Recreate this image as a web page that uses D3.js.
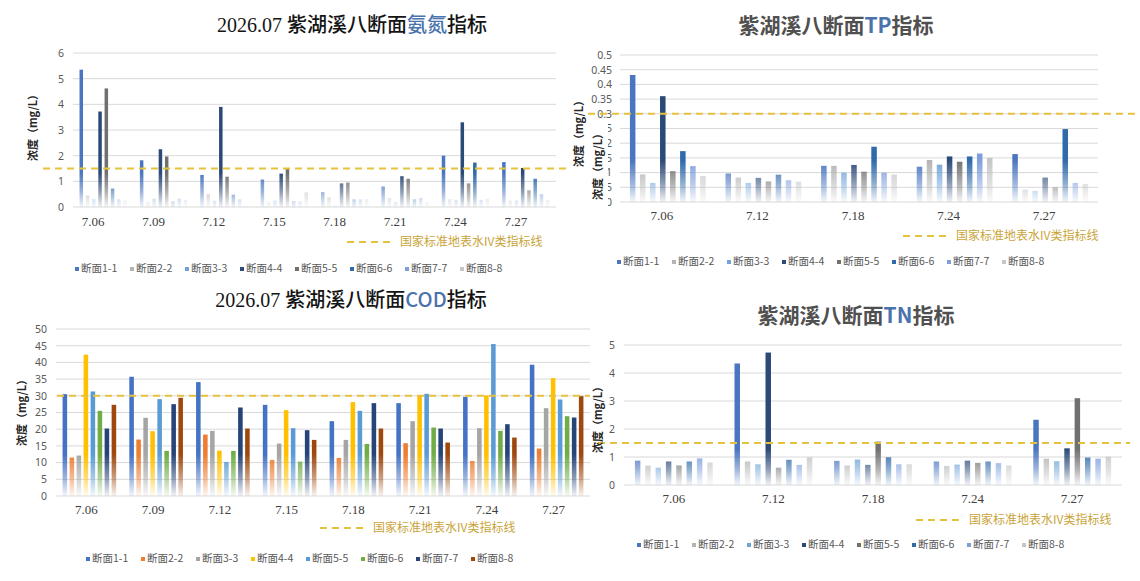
<!DOCTYPE html>
<html lang="zh">
<head>
<meta charset="utf-8">
<title>紫湖溪八断面水质指标</title>
<style>
  body { margin: 0; background: #fff; }
  svg { display: block; }
  text { font-family: "Noto Sans", "Noto Sans CJK SC", sans-serif; }
  .cjk { font-family: "Noto Sans CJK SC", sans-serif; }
</style>
<script src="https://cdn.jsdelivr.net/npm/d3@7"></script>
</head>
<body>
<script>
// ---- data ----
var series = ["断面1-1", "断面2-2", "断面3-3", "断面4-4", "断面5-5", "断面6-6", "断面7-7", "断面8-8"];

var nh3Dates = ["7.06", "7.09", "7.12", "7.15", "7.18", "7.21", "7.24", "7.27"];
var nh3Values = [
  [5.35, 0.45, 0.30, 3.72, 4.62, 0.72, 0.30, 0.25],
  [1.82, 0.20, 0.32, 2.25, 1.97, 0.22, 0.33, 0.28],
  [1.25, 0.50, 0.25, 3.90, 1.18, 0.48, 0.30, 0.08],
  [1.07, 0.18, 0.25, 1.30, 1.50, 0.23, 0.22, 0.57],
  [0.58, 0.38, 0.07, 0.92, 0.95, 0.30, 0.30, 0.30],
  [0.80, 0.35, 0.20, 1.20, 1.10, 0.30, 0.35, 0.20],
  [2.00, 0.30, 0.28, 3.30, 0.92, 1.73, 0.28, 0.32],
  [1.75, 0.25, 0.25, 1.52, 0.65, 1.10, 0.50, 0.28]
];
var nh3Ticks = [0, 1, 2, 3, 4, 5, 6];
var nh3Limit = 1.5;

var tpDates = ["7.06", "7.12", "7.18", "7.24", "7.27"];
var tpValues = [
  [0.432, 0.094, 0.065, 0.360, 0.105, 0.173, 0.122, 0.088],
  [0.097, 0.083, 0.065, 0.082, 0.070, 0.093, 0.074, 0.069],
  [0.123, 0.123, 0.100, 0.126, 0.103, 0.188, 0.100, 0.093],
  [0.120, 0.143, 0.127, 0.155, 0.137, 0.155, 0.165, 0.150],
  [0.163, 0.042, 0.038, 0.083, 0.050, 0.248, 0.065, 0.061]
];
var tpTicks = [0, 0.05, 0.1, 0.15, 0.2, 0.25, 0.3, 0.35, 0.4, 0.45, 0.5];
var tpLimit = 0.3;

var codDates = ["7.06", "7.09", "7.12", "7.15", "7.18", "7.21", "7.24", "7.27"];
var codValues = [
  [30.5, 11.5, 12.1, 42.3, 31.3, 25.5, 20.2, 27.3],
  [35.7, 16.9, 23.4, 19.4, 29.0, 13.5, 27.5, 29.4],
  [34.1, 18.4, 19.5, 13.6, 10.2, 13.5, 26.5, 20.2],
  [27.3, 10.8, 15.7, 25.7, 20.3, 10.3, 19.7, 16.8],
  [22.4, 11.4, 16.8, 28.1, 25.5, 15.6, 27.8, 20.2],
  [27.8, 15.8, 22.4, 30.1, 30.6, 20.5, 20.2, 16.0],
  [29.7, 10.5, 20.3, 30.1, 45.5, 19.5, 21.5, 17.5],
  [39.3, 14.2, 26.3, 35.3, 28.9, 23.9, 23.5, 29.9]
];
var codTicks = [0, 5, 10, 15, 20, 25, 30, 35, 40, 45, 50];
var codLimit = 30;

var tnDates = ["7.06", "7.12", "7.18", "7.24", "7.27"];
var tnValues = [
  [0.87, 0.69, 0.62, 0.84, 0.70, 0.84, 0.95, 0.80],
  [4.34, 0.84, 0.74, 4.73, 0.62, 0.90, 0.72, 0.99],
  [0.86, 0.70, 0.91, 0.72, 1.55, 0.99, 0.74, 0.74],
  [0.84, 0.68, 0.73, 0.87, 0.79, 0.84, 0.78, 0.70],
  [2.33, 0.94, 0.85, 1.31, 3.10, 0.98, 0.94, 1.01]
];
var tnTicks = [0, 1, 2, 3, 4, 5];
var tnLimit = 1.5;

var blueColors = ["#4a76bf", "#b3b3b3", "#6fa3d9", "#2c4a78", "#707070", "#2f6aa9", "#7f9fdc", "#c6c6c6"];
var officeColors = ["#4472c4", "#ed7d31", "#a5a5a5", "#ffc000", "#5b9bd5", "#70ad47", "#264478", "#9e480e"];

var limitText = "国家标准地表水IV类指标线";
var yTitle = "浓度（mg/L）";

// ---- drawing ----
var svg = d3.select("body").append("svg")
  .attr("width", 1140)
  .attr("height", 581);
var defs = svg.append("defs");

function drawPanel(p) {
  var g = svg.append("g");
  var y = d3.scaleLinear().domain([0, p.ticks[p.ticks.length - 1]]).range([p.yBot, p.yTop]);
  var x0 = d3.scaleBand().domain(p.dates).range([p.xl, p.xr])
    .paddingInner(p.groupPad).paddingOuter(p.groupPad / 2);
  var x1 = d3.scaleBand().domain(series).range([0, x0.bandwidth()])
    .paddingInner(p.barPad).paddingOuter(p.barPad / 2);

  // gridlines
  g.selectAll(".grid").data(p.ticks).enter().append("line")
    .attr("x1", p.xl).attr("x2", p.xr)
    .attr("y1", function(d) { return y(d); })
    .attr("y2", function(d) { return y(d); })
    .style("stroke", "#d9d9d9").style("stroke-width", 1);

  // y tick labels
  var ya = g.append("g")
    .attr("transform", "translate(" + p.tickX + ",0)")
    .call(d3.axisLeft(y).tickValues(p.ticks).tickSize(0).tickPadding(0).tickFormat(function(d) { return String(+d.toFixed(2)); }));
  ya.select(".domain").remove();
  ya.selectAll("text").style("font-size", p.tickSize + "px").style("fill", "#595959")
    .style("font-family", "'Noto Sans', sans-serif");

  // fading fills (colour at top, almost white at the baseline)
  p.colors.forEach(function(c, i) {
    var gr = defs.append("linearGradient")
      .attr("id", p.id + "_" + i)
      .attr("gradientUnits", "userSpaceOnUse")
      .attr("x1", 0).attr("x2", 0)
      .attr("y1", p.yBot - p.fade).attr("y2", p.yBot);
    gr.append("stop").attr("offset", 0).attr("stop-color", c);
    gr.append("stop").attr("offset", 0.55).attr("stop-color", c).attr("stop-opacity", 0.55);
    gr.append("stop").attr("offset", 1).attr("stop-color", c).attr("stop-opacity", 0.06);
  });

  // bars
  var groups = g.selectAll(".grp").data(p.values).enter().append("g")
    .attr("transform", function(d, i) { return "translate(" + x0(p.dates[i]) + ",0)"; });
  groups.selectAll("rect").data(function(d) { return d; }).enter().append("rect")
    .attr("x", function(d, i) { return x1(series[i]); })
    .attr("width", x1.bandwidth())
    .attr("y", function(d) { return y(d); })
    .attr("height", function(d) { return p.yBot - y(d); })
    .attr("fill", function(d, i) { return "url(#" + p.id + "_" + i + ")"; });

  // x labels
  var xa = g.append("g")
    .attr("transform", "translate(" + p.labelShift + "," + p.yBot + ")")
    .call(d3.axisBottom(x0).tickSize(0).tickPadding(p.labelPad));
  xa.select(".domain").remove();
  xa.selectAll("text").style("font-size", "13px").style("fill", "#404040")
    .style("font-family", "'Liberation Serif', serif");

  // limit line
  g.append("line")
    .attr("x1", p.limX[0]).attr("x2", p.limX[1])
    .attr("y1", y(p.limit)).attr("y2", y(p.limit))
    .style("stroke", "#e6c13c").style("stroke-width", 2).style("stroke-dasharray", "7,5");

  // limit legend
  g.append("line")
    .attr("x1", p.limLeg[0]).attr("x2", p.limLeg[0] + 44)
    .attr("y1", p.limLeg[1]).attr("y2", p.limLeg[1])
    .style("stroke", "#e6c13c").style("stroke-width", 2).style("stroke-dasharray", "7,5");
  g.append("text").attr("class", "cjk")
    .attr("x", p.limLeg[0] + 53).attr("y", p.limLeg[1] + 4)
    .style("font-size", "12px").style("fill", "#c9a43a")
    .text(limitText);

  // series legend
  var leg = g.selectAll(".leg").data(series).enter().append("g")
    .attr("transform", function(d, i) { return "translate(" + (p.legX + i * 55) + "," + p.legY + ")"; });
  leg.append("rect").attr("x", 0).attr("y", -5).attr("width", 4).attr("height", 4)
    .attr("fill", function(d, i) { return p.colors[i]; });
  leg.append("text").attr("class", "cjk").attr("x", 6).attr("y", 0)
    .style("font-size", "10.5px").style("fill", "#595959")
    .text(function(d) { return d; });

  // y title(s)
  p.yTitles.forEach(function(t) {
    if (t.mask) {
      g.append("rect").attr("x", t.mask[0]).attr("y", t.mask[1])
        .attr("width", t.mask[2]).attr("height", t.mask[3]).attr("fill", "#fff");
    }
    g.append("text").attr("class", "cjk")
      .attr("transform", "translate(" + t.x + "," + t.y + ") rotate(-90)")
      .attr("text-anchor", "middle").attr("dy", "0.35em")
      .style("font-size", "11px").style("font-weight", "bold").style("fill", "#262626")
      .text(yTitle);
  });

  // title
  var tt = g.append("text").attr("x", p.titleX).attr("y", p.titleY)
    .attr("text-anchor", "middle")
    .style("font-size", p.titleSize + "px");
  p.title.forEach(function(part) {
    tt.append("tspan")
      .style("font-family", part.serif ? "'Liberation Serif', serif" : "'Noto Sans CJK SC', sans-serif")
      .style("font-weight", p.titleWeight)
      .style("fill", part.hl ? "#4a72ad" : p.titleColor)
      .text(part.t);
  });
}

drawPanel({
  id: "nh3", dates: nh3Dates, values: nh3Values, ticks: nh3Ticks, limit: nh3Limit, colors: blueColors,
  xl: 73, xr: 556, yTop: 53, yBot: 207, groupPad: 0.17, barPad: 0.44, fade: 34,
  tickX: 64, tickSize: 10.5, labelShift: -10, labelPad: 10,
  limX: [43, 567], limLeg: [347, 242], legX: 75, legY: 272,
  yTitles: [{ x: 33, y: 125 }],
  title: [{ t: "2026.07 ", serif: true }, { t: "紫湖溪八断面" }, { t: "氨氮", hl: true }, { t: "指标" }],
  titleX: 352, titleY: 32, titleSize: 20, titleWeight: "500", titleColor: "#141414"
});

drawPanel({
  id: "tp", dates: tpDates, values: tpValues, ticks: tpTicks, limit: tpLimit, colors: blueColors,
  xl: 620, xr: 1098, yTop: 55, yBot: 202, groupPad: 0.16, barPad: 0.45, fade: 42,
  tickX: 612, tickSize: 10.5, labelShift: -6, labelPad: 9,
  limX: [588, 1140], limLeg: [903, 236], legX: 617, legY: 265,
  yTitles: [{ x: 579, y: 131 }, { x: 598, y: 164, mask: [588, 124, 20, 84] }],
  title: [{ t: "紫湖溪八断面" }, { t: "TP", hl: true }, { t: "指标" }],
  titleX: 836, titleY: 33, titleSize: 21, titleWeight: "bold", titleColor: "#505050"
});

drawPanel({
  id: "cod", dates: codDates, values: codValues, ticks: codTicks, limit: codLimit, colors: officeColors,
  xl: 56, xr: 590, yTop: 329, yBot: 496, groupPad: 0.16, barPad: 0.35, fade: 42,
  tickX: 47, tickSize: 10.5, labelShift: -3, labelPad: 9,
  limX: [57, 590], limLeg: [320, 528], legX: 86, legY: 562,
  yTitles: [{ x: 22, y: 410 }],
  title: [{ t: "2026.07 ", serif: true }, { t: "紫湖溪八断面" }, { t: "COD", hl: true }, { t: "指标" }],
  titleX: 351, titleY: 307, titleSize: 20, titleWeight: "500", titleColor: "#141414"
});

drawPanel({
  id: "tn", dates: tnDates, values: tnValues, ticks: tnTicks, limit: tnLimit, colors: blueColors,
  xl: 624, xr: 1122, yTop: 345, yBot: 485, groupPad: 0.17, barPad: 0.47, fade: 36,
  tickX: 615, tickSize: 10.5, labelShift: 0, labelPad: 9,
  limX: [598, 1130], limLeg: [916, 520], legX: 637, legY: 548,
  yTitles: [{ x: 598, y: 417 }],
  title: [{ t: "紫湖溪八断面" }, { t: "TN", hl: true }, { t: "指标" }],
  titleX: 856, titleY: 323, titleSize: 21, titleWeight: "bold", titleColor: "#505050"
});
</script>
</body>
</html>
